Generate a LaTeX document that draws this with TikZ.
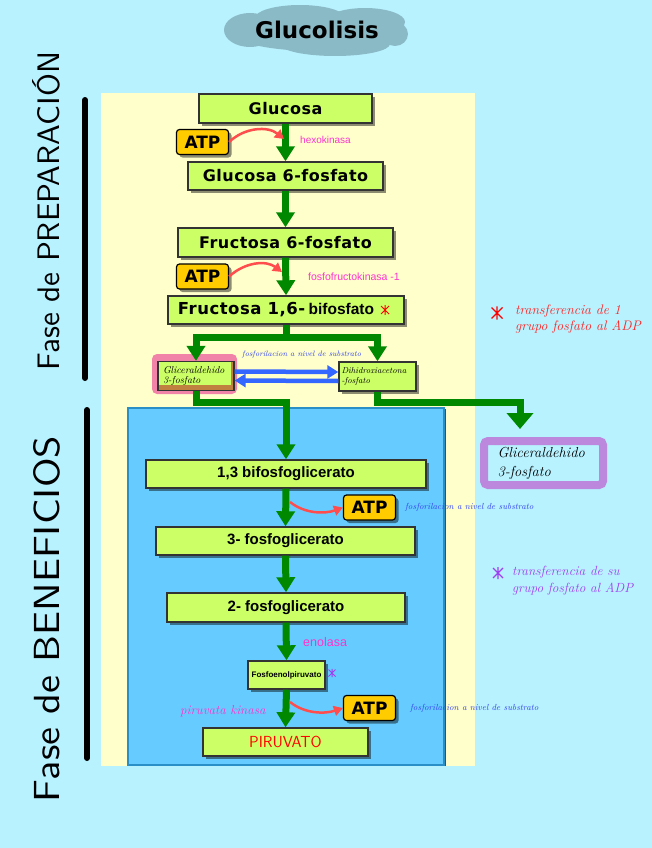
\documentclass[tikz,border=0pt]{standalone}
\usepackage{fontspec}
\usepackage{graphicx}
\newfontfamily\pix[LetterSpace=3]{DejaVu Sans}
\newfontfamily\dvs{DejaVu Sans}
\newfontfamily\lib{Liberation Sans}
\usetikzlibrary{arrows.meta,shadows}
\definecolor{bg}{HTML}{B8F2FF}
\definecolor{yel}{HTML}{FFFFCC}
\definecolor{bpanel}{HTML}{66CCFF}
\definecolor{bpborder}{HTML}{2A8FC7}
\definecolor{boxgreen}{HTML}{CCFF66}
\definecolor{boxline}{HTML}{333333}
\definecolor{garr}{HTML}{008800}
\definecolor{atpy}{HTML}{FFCC00}
\definecolor{redarr}{HTML}{FF4D4D}
\definecolor{barr}{HTML}{3366FF}
\definecolor{pinktxt}{HTML}{FF33CC}
\definecolor{bluetxt}{HTML}{3344EE}
\definecolor{redtxt}{HTML}{FF2222}
\definecolor{purtxt}{HTML}{A040F0}
\definecolor{purbox}{HTML}{BB88DD}
\definecolor{pinkhl}{HTML}{F283A8}
\definecolor{brownb}{HTML}{C08040}
\definecolor{cloud}{HTML}{8ABAC6}
\begin{document}
\begin{tikzpicture}[x=1pt,y=-1pt,
  shad/.style={drop shadow={shadow xshift=3pt,shadow yshift=-3pt,opacity=.45,fill=black}},
  gbox/.style={draw=boxline,fill=boxgreen,line width=1.4pt,inner sep=0pt,shad},
  toptext/.style={font=\pix\bfseries\fontsize{16}{16}\selectfont},
  lowtext/.style={font=\lib\bfseries\fontsize{15}{15}\selectfont},
  atpbox/.style={draw=black,fill=atpy,rounded corners=3pt,line width=1.2pt,inner sep=0pt,
     minimum width=52,minimum height=25,font=\dvs\bfseries\fontsize{17}{17}\selectfont,shad},
  gline/.style={draw=garr,line width=7pt},
  garrow/.style={gline,-{Triangle[width=18pt,length=15pt]}},
  bigarrow/.style={gline,-{Triangle[width=26pt,length=16pt]}},
  redcurve/.style={draw=redarr,line width=2.5pt,-{Triangle[width=10pt,length=9pt]}},
  bluearrow/.style={draw=barr,line width=4.5pt,-{Triangle[width=13pt,length=11pt]}},
  hand/.style={font=\itshape\fontsize{#1}{#1}\selectfont},
  enz/.style={font=\lib\fontsize{#1}{#1}\selectfont,text=pinktxt,anchor=west,inner sep=0pt},
  fosf/.style={hand=8.8,text=bluetxt,anchor=west,inner sep=0pt},
  astpic/.pic={\draw[pic actions] (-5,-5)--(5,5) (-5,5)--(5,-5) (0,-6)--(0,6);}
]
\useasboundingbox (0,0) rectangle (652,848);
\fill[bg] (0,0) rectangle (652,848);
% panels
\fill[yel] (101,93) rectangle (475,766);
\filldraw[fill=bpanel,draw=bpborder,line width=2.5pt] (128,408) rectangle (444,765);
\draw[black!70,line width=1.2pt] (445.5,409) -- (445.5,766);
% side bars and labels
\draw[black,line width=6pt,line cap=round] (85,100) -- (85,378);
\draw[black,line width=6pt,line cap=round] (87,410) -- (87,758);
\node[rotate=90,inner sep=0pt] (lab1) at (46,211) {\resizebox{318pt}{27pt}{\sffamily Fase de PREPARACIÓN}};
\node[rotate=90,inner sep=0pt] (lab2) at (47,619) {\resizebox{366pt}{26pt}{\sffamily Fase de BENEFICIOS}};
% title
\fill[cloud] (316,31) ellipse [x radius=86pt,y radius=20pt];
\fill[cloud] (250,30) ellipse [x radius=26pt,y radius=17pt];
\fill[cloud] (300,18) ellipse [x radius=45pt,y radius=13pt];
\fill[cloud] (365,22) ellipse [x radius=40pt,y radius=14pt];
\fill[cloud] (335,44) ellipse [x radius=55pt,y radius=12pt];
\fill[cloud] (395,34) ellipse [x radius=13pt,y radius=12pt];
\node[font=\dvs\bfseries\fontsize{23}{23}\selectfont] (title) at (317,30) {Glucolisis};
% preparation phase boxes
\node[gbox,toptext,minimum width=173,minimum height=29] (glu) at (285.5,108.5) {Glucosa};
\node[gbox,toptext,minimum width=195,minimum height=28] (g6p) at (285.5,176) {Glucosa 6-fosfato};
\node[gbox,toptext,minimum width=215,minimum height=29] (f6p) at (285.5,242.5) {Fructosa 6-fosfato};
\node[gbox,minimum width=236,minimum height=28] (f16) at (286,310)
   {{\pix\bfseries\fontsize{16.5}{16}\selectfont Fructosa 1,6-} {\lib\bfseries\fontsize{15.5}{15}\selectfont bifosfato}\kern20pt\relax};
\node[atpbox] (atp1) at (202.5,142) {ATP};
\node[atpbox] (atp2) at (202.5,276.5) {ATP};
% triose boxes
\node[fill=pinkhl,rounded corners=5pt,minimum width=85,minimum height=40,inner sep=0pt] (gahl) at (194.5,374) {};
\node[draw=boxline,fill=brownb,line width=1.2pt,minimum width=76,minimum height=29,inner sep=0pt,
  text width=66pt,align=left,hand=10,
  path picture={\fill[boxgreen] (path picture bounding box.north west) rectangle ([xshift=-3pt,yshift=6pt]path picture bounding box.south east);}]
  (ga) at (196,376) {Gliceraldehido\\[0pt]3-fosfato};
\node[gbox,minimum width=77,minimum height=29,text width=72pt,align=left,hand=8.6] (dhap) at (377.5,376.5) {Dihidroxiacetona\\[1pt]-fosfato};
\node[draw=purbox,line width=8pt,rounded corners=4pt,fill=bg,minimum width=119,minimum height=44,inner sep=0pt,
  text width=92pt,align=left,font=\itshape\fontsize{14.5}{19}\selectfont] (ga2) at (543.5,463) {Gliceraldehido\\3-fosfato};
% benefit phase boxes
\node[gbox,lowtext,minimum width=280,minimum height=28] (b13) at (286,474) {1,3 bifosfoglicerato};
\node[gbox,lowtext,minimum width=259,minimum height=28] (p3g) at (285.5,541) {3- fosfoglicerato};
\node[gbox,lowtext,minimum width=238,minimum height=29] (p2g) at (286,607.5) {2- fosfoglicerato};
\node[gbox,font=\lib\bfseries\fontsize{8}{8}\selectfont,minimum width=77,minimum height=28] (pep) at (286.5,675) {Fosfoenolpiruvato};
\node[gbox,font=\sffamily\fontsize{16}{16}\selectfont,text=red,minimum width=165,minimum height=28] (pir) at (285.5,742) {PIRUVATO};
\node[atpbox] (atp3) at (369.5,507.5) {ATP};
\node[atpbox] (atp4) at (369.5,708) {ATP};
% green connectors
\draw[garrow] (glu.south) -- (g6p.north);
\draw[garrow] (g6p.south) -- (f6p.north);
\draw[garrow] (f6p.south) -- (f16.north);
\path (f16.south) ++(0,13) coordinate (sp);
\draw[gline] (f16.south) -- (sp);
\draw[garrow] (sp) -| (ga.north);
\draw[garrow] (sp) -| (dhap.north);
\draw[garrow] (ga.south) -- ++(0,11) -| (b13.north);
\coordinate (gend) at (520,429);
\draw[bigarrow] (dhap.south) -- ++(0,11) -| (gend);
\draw[garrow] (b13.south) -- (p3g.north);
\draw[garrow] (p3g.south) -- (p2g.north);
\draw[garrow] (p2g.south) -- (pep.north);
\draw[garrow] (pep.south) -- (pir.north);
% blue arrows
\draw[bluearrow] ([yshift=4.5pt]ga.east) -- ([yshift=4.5pt]dhap.west);
\draw[bluearrow] ([yshift=-4.5pt]dhap.west) -- ([yshift=-4.5pt]ga.east);
% red curved arrows
\coordinate (h1) at (284,139);
\coordinate (h2) at (282,272);
\coordinate (h3) at (290,502);
\coordinate (h4) at (290,702);
\draw[redcurve] (atp1.east) .. controls (245,127) and (268,126) .. (h1);
\draw[redcurve] (atp2.east) .. controls (245,262) and (266,260) .. (h2);
\draw[redcurve] (h3) .. controls (305,514) and (325,514) .. (atp3.west);
\draw[redcurve] (h4) .. controls (305,714) and (325,714) .. (atp4.west);
% labels
\node[enz=10] (hexo) at (300,140) {hexokinasa};
\node[enz=10.5] (pfk) at (308,277) {fosfofructokinasa -1};
\node[enz=12.5] (eno) at (303,642) {enolasa};
\node[hand=13,text=pinktxt,anchor=west,inner sep=0pt] (pk) at (180,711) {piruvata kinasa};
\node[hand=7.8,text=bluetxt,anchor=west,inner sep=0pt] (fs1) at (242,355) {fosforilacion a nivel de substrato};
\node[fosf] (fs2) at (405,507) {fosforilacion a nivel de substrato};
\node[fosf] (fs3) at (410,708) {fosforilacion a nivel de substrato};
\node[font=\itshape\fontsize{13.8}{16}\selectfont,text=redtxt,align=left,anchor=west,inner sep=0pt] (leg1) at (515,319) {transferencia de 1\\grupo fosfato al ADP};
\node[font=\itshape\fontsize{13.3}{17}\selectfont,text=purtxt,align=left,anchor=west,inner sep=0pt] (leg2) at (512,580.5) {transferencia de su\\grupo fosfato al ADP};
% asterisks
\pic[draw=red,line width=1pt,scale=0.8] at (385,310) {astpic};
\pic[draw=red,line width=1.1pt,scale=1.1] at (497,313) {astpic};
\pic[draw=purtxt,line width=1.1pt,scale=1.0] at (498,573) {astpic};
\pic[draw=purtxt,line width=1pt,scale=0.7] at (332,673) {astpic};
\end{tikzpicture}
\end{document}
